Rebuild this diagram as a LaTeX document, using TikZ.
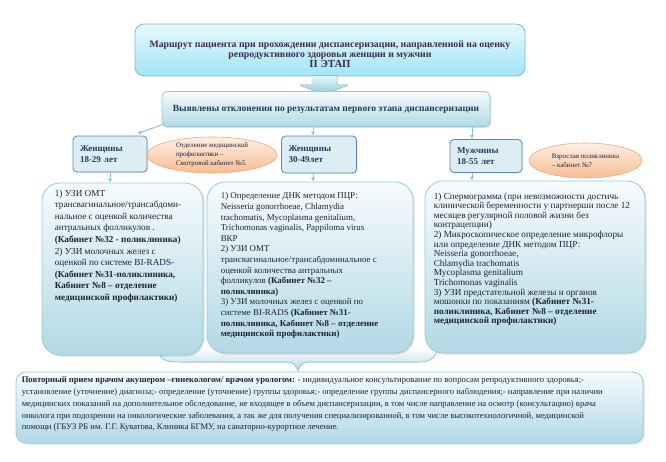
\documentclass[tikz,border=0pt]{standalone}
\usepackage{fontspec}
\setmainfont{Liberation Serif}
\usetikzlibrary{positioning,calc,arrows.meta,shapes.geometric,shadows}

\definecolor{titletop}{HTML}{E6F9FE}
\definecolor{titlebot}{HTML}{A2E4F6}
\definecolor{titleline}{HTML}{6FC2D7}
\definecolor{titleink}{HTML}{3D2B4F}
\definecolor{paletop}{HTML}{F6FBFD}
\definecolor{palebot}{HTML}{B2D9E4}
\definecolor{paleline}{HTML}{93CBDB}
\definecolor{groupfill}{HTML}{DCEEF4}
\definecolor{groupline}{HTML}{5B86BE}
\definecolor{groupink}{HTML}{243A5E}
\definecolor{peachtop}{HTML}{FDEFE4}
\definecolor{peachbot}{HTML}{F7BD92}
\definecolor{peachline}{HTML}{F2A877}
\definecolor{linkblue}{HTML}{8BC7D7}
\definecolor{bodyink}{HTML}{1F2236}

\begin{document}
\begin{tikzpicture}[x=1pt, y=-1pt,
  every node/.style={inner sep=0pt},
  routebox/.style={draw=titleline, line width=0.8pt, rounded corners=9pt,
    top color=titletop, bottom color=titlebot},
  routetext/.style={align=center, text=titleink,
    font=\bfseries\fontsize{9.8}{10.2}\selectfont},
  findbox/.style={draw=paleline, line width=0.8pt, rounded corners=5pt,
    top color=paletop, bottom color=palebot, text=groupink,
    font=\bfseries\fontsize{9.5}{11}\selectfont,
    drop shadow={opacity=0.25, shadow xshift=1pt, shadow yshift=-1.5pt}},
  groupbox/.style={draw=groupline, line width=0.8pt, rounded corners=4pt,
    fill=groupfill, text=groupink, align=left, inner xsep=7pt,
    font=\bfseries\fontsize{9}{11}\selectfont,
    drop shadow={opacity=0.2, shadow xshift=1pt, shadow yshift=-1pt}},
  placebox/.style={ellipse, draw=peachline, line width=0.6pt,
    top color=peachtop, bottom color=peachbot, align=left,
    text=bodyink, font=\fontsize{6.9}{9}\selectfont},
  testbox/.style={draw=paleline, line width=0.8pt, rounded corners=18pt,
    top color=paletop, bottom color=palebot,
    drop shadow={opacity=0.25, shadow xshift=1.5pt, shadow yshift=-1.5pt}},
  testtext/.style={align=left, text=bodyink},
  visitbox/.style={draw=paleline, line width=0.8pt, rounded corners=10pt,
    top color=paletop, bottom color=palebot,
    drop shadow={opacity=0.25, shadow xshift=1.5pt, shadow yshift=-1.5pt}},
  link/.style={draw=linkblue, line width=1pt, -{Latex[length=4pt,width=4.5pt]}}]

\useasboundingbox (0,0) rectangle (666,462);

% title and first finding
\node[routebox, minimum width=390pt, minimum height=52pt] (route) at (330,50) {};
\node[routetext] (routelbl) at ($(route.center)+(0,-4pt)$)
  {Маршрут пациента при прохождении диспансеризации, направленной на оценку\\
   репродуктивного здоровья женщин и мужчин\\
   {\fontsize{10.8}{11}\selectfont II ЭТАП}};
\filldraw[draw=linkblue, top color=titletop, bottom color=linkblue]
  (312,76) -- (337,76) -- (337,85) -- (348,85) -- (324,95) -- (300,85) -- (312,85) -- cycle;
\node[findbox, minimum width=328pt, minimum height=35pt] (found) at (326,109)
  {Выявлены отклонения по результатам первого этапа диспансеризации};

% groups
\node[groupbox, text width=60pt, minimum height=36pt] (w18) at (110,154) {Женщины\\18-29 лет};
\node[groupbox, text width=61pt, minimum height=37pt] (w30) at (319,154.5) {Женщины\\30-49лет};
\node[groupbox, text width=58pt, minimum height=33pt] (men) at (486,156) {Мужчины\\18-55 лет};
\node[placebox, minimum width=130pt, minimum height=36pt] (room5) at (212,155)
  {Отделение медицинской\\профилактики –\\Смотровой кабинет №5};
\node[placebox, minimum width=113pt, minimum height=35pt] (room7) at (585.5,160.5)
  {Взрослая поликлиника\\– кабинет №7};

\draw[link] ($(found.south west)+(3pt,3pt)$) -- ($(w18.north east)+(-10pt,2pt)$);
\draw[link] ($(found.south -| w30.north)+(-6pt,0)$) -- ($(w30.north)+(-6pt,0)$);
\draw[link] ($(found.south -| men.north)+(-14pt,0)$) -- ($(men.north)+(-14pt,0)$);

% brace under the test boxes
\fill[top color=white, bottom color=palebot]
  (157,348) .. controls (160,360) and (165,362) .. (180,362) -- (288,362)
  .. controls (294,362) and (296,366) .. (298,371)
  .. controls (300,366) and (302,362) .. (308,362) -- (418,362)
  .. controls (430,362) and (436,358) .. (438,348) -- cycle;
\draw[paleline, line width=0.8pt]
  (157,348) .. controls (160,360) and (165,362) .. (180,362) -- (288,362)
  .. controls (294,362) and (296,366) .. (298,371)
  .. controls (300,366) and (302,362) .. (308,362) -- (418,362)
  .. controls (430,362) and (436,358) .. (438,348);

% tests
\node[testbox, minimum width=161pt, minimum height=172pt] (uzi1) at (122.5,269) {};
\node[testbox, minimum width=206pt, minimum height=171pt] (uzi2) at (310,267.5) {};
\node[testbox, minimum width=220pt, minimum height=172pt] (uzi3) at (535,267) {};

\draw[link] (w18.south) -- (w18.south |- uzi1.north);
\draw[link] ($(w30.south)+(-6pt,0)$) -- ($(w30.south |- uzi2.north)+(-6pt,0)$);
\draw[link] ($(men.south)+(-14pt,0)$) -- ($(men.south |- uzi3.north)+(-14pt,0)$);

\node[testtext, font=\fontsize{9.2}{11.6}\selectfont, below right=7pt and 13pt of uzi1.north west] (uzi1text)
  {1) УЗИ ОМТ\\
   трансвагинальное/трансабдоми-\\
   нальное с оценкой количества\\
   антральных фолликулов .\\
   \textbf{(Кабинет №32 - поликлиника)}\\
   2) УЗИ молочных желез с\\
   оценкой по системе BI-RADS-\\
   \textbf{(Кабинет №31-поликлиника,}\\
   \textbf{Кабинет №8 – отделение}\\
   \textbf{медицинской профилактики)}};
\node[testtext, font=\fontsize{8.9}{10.6}\selectfont, below right=11pt and 14pt of uzi2.north west] (uzi2text)
  {1) Определение ДНК методом ПЦР:\\
   Neisseria gonorrhoeae, Chlamydia\\
   trachomatis, Mycoplasma genitalium,\\
   Trichomonas vaginalis, Pappiloma virus\\
   ВКР\\
   2) УЗИ ОМТ\\
   трансвагинальное/трансабдоминальное с\\
   оценкой количества антральных\\
   фолликулов \textbf{(Кабинет №32 –}\\
   \textbf{поликлиника)}\\
   3) УЗИ молочных желез с оценкой по\\
   системе BI-RADS \textbf{(Кабинет №31-}\\
   \textbf{поликлиника, Кабинет №8 – отделение}\\
   \textbf{медицинской профилактики)}};
\node[testtext, font=\fontsize{9.2}{9.6}\selectfont, below right=12pt and 9pt of uzi3.north west] (uzi3text)
  {1) Спермограмма (при невозможности достичь\\
   клинической беременности у партнерши после 12\\
   месяцев регулярной половой жизни без\\
   контрацепции)\\
   2) Микроскопическое определение микрофлоры\\
   или определение ДНК методом ПЦР:\\
   Neisseria gonorrhoeae,\\
   Chlamydia trachomatis\\
   Mycoplasma genitalium\\
   Trichomonas vaginalis\\
   3) УЗИ предстательной железы и органов\\
   мошонки по показаниям \textbf{(Кабинет №31-}\\
   \textbf{поликлиника, Кабинет №8 – отделение}\\
   \textbf{медицинской профилактики)}};

% repeat visit
\node[visitbox, minimum width=627pt, minimum height=71pt] (visit) at (329.5,407.5) {};
\node[testtext, font=\fontsize{8.6}{11.8}\selectfont, below right=5pt and 6pt of visit.north west] (visittext)
  {\textbf{Повторный прием врачом акушером –гинекологом/ врачом урологом:} - индивидуальное консультирование по вопросам репродуктивного здоровья;-\\
   установление (уточнение) диагноза;- определение (уточнение) группы здоровья;- определение группы диспансерного наблюдения;- направление при наличии\\
   медицинских показаний на дополнительное обследование, не входящее в объем диспансеризации, в том числе направление на осмотр (консультацию) врача\\
   онколога при подозрении на онкологические заболевания, а так же для получения специализированной, в том числе высокотехнологичной, медицинской\\
   помощи (ГБУЗ РБ им. Г.Г. Куватова, Клиника БГМУ, на санаторно-курортное лечение.};
\end{tikzpicture}
\end{document}
